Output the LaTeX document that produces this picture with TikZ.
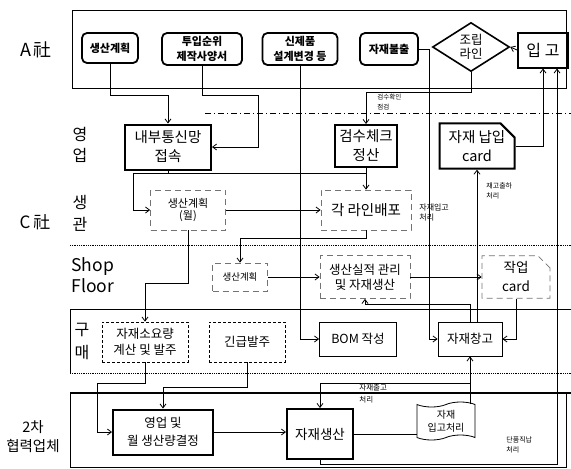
\documentclass[tikz,border=0pt]{standalone}
\usepackage{fontspec}
\setmainfont{Noto Sans CJK KR}
\usepackage{tikz}
\usetikzlibrary{arrows.meta,positioning,calc,shapes.geometric,shapes.misc,shapes.symbols}

\begin{document}
\begin{tikzpicture}[x=1pt,y=-1pt,line width=0.8pt,>={Straight Barb[length=4pt,width=6pt]},
  every node/.style={inner sep=0pt},
  abox/.style={rectangle,rounded corners=5pt,draw=black,line width=1.8pt,font=\fontsize{11}{15}\selectfont\bfseries,align=center},
  tbox/.style={rectangle,draw=black,line width=2pt,font=\fontsize{14.5}{19}\selectfont,align=center},
  dbox/.style={rectangle,draw=black!55,dash pattern=on 6pt off 4pt,line width=0.7pt,align=center},
  kbox/.style={rectangle,draw=black,dash pattern=on 3pt off 2pt,line width=0.7pt,font=\fontsize{12.5}{16}\selectfont,align=center},
  sbox/.style={rectangle,draw=black,line width=0.8pt,font=\fontsize{12.5}{16}\selectfont,align=center},
  note/.style={font=\fontsize{7}{10}\selectfont,align=left,anchor=north west},
  lane/.style={font=\fontsize{16}{21}\selectfont,align=center}
]
\useasboundingbox (0,0) rectangle (571,469);

% bands
\draw (72,10) rectangle (566,88);
\draw[dash pattern=on 6pt off 3pt on 1pt off 3pt] (205,113) -- (571,113);
\draw[densely dotted] (70,245) -- (571,245);
\draw (571,309) -- (70,309) -- (70,373);
\draw[densely dotted] (70,373) -- (571,373);
\draw[line width=2pt] (70,393) -- (571,393);
\draw (70,393) -- (70,467) -- (566,467) -- (566,393);

% lane labels
\node (laneA) [lane,font=\fontsize{18}{21}\selectfont] at (36,50) {A\,社};
\node (laneC) [lane,font=\fontsize{17}{21}\selectfont] at (35,222) {C\,社};
\node (sales) [lane] at (80,145) {영\\업};
\node (ctrl) [lane,font=\fontsize{16}{22}\selectfont] at (80,213) {생\\관};
\node (shop) [lane,font=\fontsize{17.5}{21}\selectfont,align=left,anchor=north west] at (71,257) {Shop\\Floor};
\node (purch) [lane,font=\fontsize{16}{23}\selectfont] at (82,341) {구\\매};
\node (partner) [lane,font=\fontsize{14.5}{19}\selectfont] at (33,437) {2차\\협력업체};

% A company
\node (plan)  [abox,minimum width=56pt,minimum height=30pt] at (110,48) {생산계획};
\node (spec)  [abox,minimum width=80pt,minimum height=32pt] at (202,49) {투입순위\\제작사양서};
\node (newp)  [abox,minimum width=75pt,minimum height=32pt] at (300,49) {신제품\\설계변경 등};
\node (issue) [abox,minimum width=58pt,minimum height=32pt] at (389,49) {자재불출};
\node (line)  [diamond,draw=black,line width=1.6pt,minimum width=77pt,minimum height=49pt,aspect=1.57,font=\fontsize{12.5}{14}\selectfont,align=center] at (471,47) {조립\\라인};
\node (recv)  [tbox,font=\fontsize{16}{19}\selectfont,minimum width=50pt,minimum height=35pt] at (543,50) {입 고};

% C company
\node (net)   [tbox,minimum width=86pt,minimum height=45pt] at (168,147) {내부통신망\\접속};
\node (check) [tbox,minimum width=62pt,minimum height=42pt] at (366,146) {검수체크\\정산};
\node (card)  [tbox,chamfered rectangle,chamfered rectangle corners=north east,chamfered rectangle xsep=7pt,chamfered rectangle ysep=7pt,minimum width=75pt,minimum height=42pt] at (477,146) {자재 납입\\card};
\node (mplan) [dbox,font=\fontsize{11}{12}\selectfont,minimum width=75pt,minimum height=40pt] at (188,210) {생산계획\\(월)};
\node (dist)  [dbox,font=\fontsize{14.5}{17}\selectfont,minimum width=90pt,minimum height=40pt] at (366,210) {각 라인배포};
\node (splan) [dbox,font=\fontsize{9.5}{12}\selectfont,minimum width=55pt,minimum height=28pt] at (240,277) {생산계획};
\node (perf)  [dbox,font=\fontsize{12.5}{15}\selectfont,minimum width=90pt,minimum height=43pt] at (365,277) {생산실적 관리\\및 자재생산};
\node (wcard) [dbox,chamfered rectangle,chamfered rectangle corners=north east,chamfered rectangle xsep=6pt,chamfered rectangle ysep=6pt,font=\fontsize{13.5}{19}\selectfont,minimum width=68pt,minimum height=41pt] at (516,277) {작업\\card};
\node (mrp)   [kbox,minimum width=86pt,minimum height=40pt] at (145,342) {자재소요량\\계산 및 발주};
\node (urg)   [kbox,minimum width=76pt,minimum height=40pt] at (247,342) {긴급발주};
\node (bom)   [sbox,minimum width=77pt,minimum height=34pt] at (358,339) {BOM 작성};
\node (store) [sbox,minimum width=64pt,minimum height=34pt] at (470,339) {자재창고};

% 2nd tier supplier
\node (sale)  [tbox,font=\fontsize{12.5}{18}\selectfont,minimum width=100pt,minimum height=45pt] at (163,432) {영업 및\\월 생산량결정};
\node (prod)  [tbox,font=\fontsize{13.5}{16}\selectfont,minimum width=66pt,minimum height=50pt] at (320,434) {자재생산};
\node (doc)   [tape,draw=black,line width=0.8pt,font=\fontsize{10}{13}\selectfont,align=center,minimum width=58pt,minimum height=38pt] at (446,421) {자재\\입고처리};

% connectors
\path[->] (recv.west) edge (line.east)
          (mplan.east) edge (dist.west)
          (splan.east) edge (perf.west)
          (perf.east) edge (wcard.west)
          ([xshift=7pt]store.north) edge (card.south)
          (store.south |- doc.north) edge (store.south);
\draw (prod.east) -- (prod.east -| doc.west);
\draw[->] (sale.east) -- (sale.east -| prod.west);

\draw[->] (plan.south) -- ++(0,31) -| (net.north);
\draw[->] (spec.south) -- ++(0,29) -- ++(56,0) |- (net.east);
\draw[->] (newp.south) |- (bom.west);
\draw[->] (issue.east) -- ++(10,0) |- (store.west);
\draw[->] (line.south) -- ++(0,20) -| (check.north);
\draw[->] (card.east) -| (recv.south);

\coordinate (netj) at ($(net.south)+(0,3)$);
\draw[->] (net.south) -- (netj) -- ++(-35,0) |- (mplan.west);
\draw[->] (netj) -| (dist.north);
\draw (check.south) -- (check.south |- netj);

\draw[->] (mplan.south) -- ++(0,53) -| (mrp.north);
\draw[->] (dist.south) -- ++(0,8) -| (splan.north);
\draw[->] (wcard.south) |- (store.east);
\draw[->] (store.north) -- ++(0,-17) -| (perf.south);

\draw[->] (mrp.south) -- ++(0,21) -- ++(-48,0) |- (sale.west);
\draw[->] (urg.south) -- ++(0,25) -| (sale.north);

\coordinate (outj) at ($(store.south)+(0,27)$);
\draw[->] (outj) -| (prod.north);
\draw[->] (prod.south) -- ++(0,4) -| ([xshift=14pt]recv.south);

% connector notes
\node (n1) [note,font=\fontsize{6.5}{10}\selectfont] at (377,94) {검수확인\\점검};
\node (n2) [note] at (486,182) {재고출하\\처리};
\node (n3) [note,font=\fontsize{8}{10}\selectfont] at (419,203) {자재입고\\처리};
\node (n4) [note,font=\fontsize{7.5}{12}\selectfont] at (359,384) {자재출고\\처리};
\node (n5) [note] at (506,436) {단품직납\\처리};

\end{tikzpicture}
\end{document}
